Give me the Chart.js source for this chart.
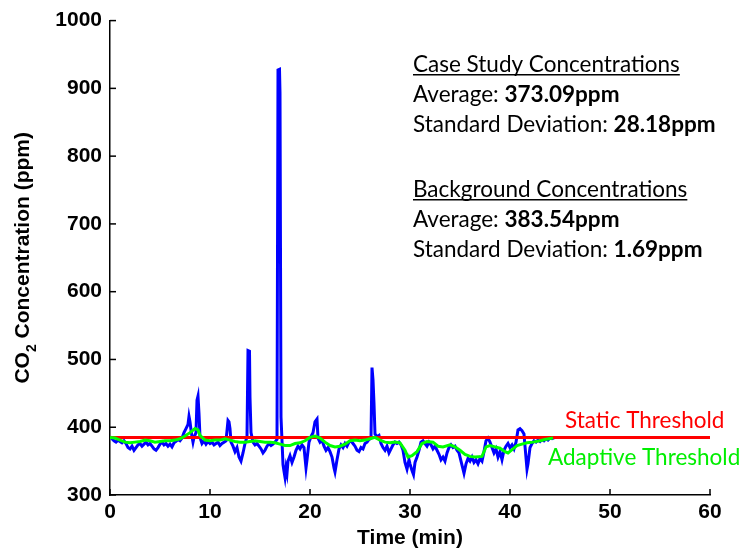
<!DOCTYPE html>
<html>
<head>
<meta charset="utf-8">
<script src="https://cdn.jsdelivr.net/npm/chart.js@4/dist/chart.umd.min.js"></script>
<style>
html,body{margin:0;padding:0;background:#fff;}
#wrap{width:744px;height:550px;position:relative;}
</style>
</head>
<body>
<div id="wrap"><canvas id="c" width="744" height="550"></canvas></div>
<script>
// ---- data ----
const blueTime = [0.0,0.2,0.4,0.6,0.8,1.0,1.2,1.4,1.6,1.8,2.0,2.2,2.4,2.6,2.8,3.0,3.2,3.4,3.6,3.8,4.0,4.2,4.4,4.6,4.8,5.0,5.2,5.4,5.6,5.8,6.0,6.2,6.4,6.6,6.8,7.0,7.2,7.4,7.6,7.8,7.9,8.0,8.1,8.2,8.3,8.4,8.6,8.7,8.8,8.9,9.0,9.2,9.4,9.6,9.8,10.0,10.2,10.4,10.6,10.8,11.0,11.2,11.4,11.6,11.8,11.9,12.0,12.1,12.3,12.5,12.7,12.9,13.1,13.3,13.5,13.7,13.8,13.95,14.0,14.1,14.3,14.5,14.7,14.9,15.1,15.3,15.5,15.7,15.9,16.1,16.3,16.5,16.7,16.8,16.95,17.0,17.1,17.2,17.3,17.4,17.5,17.6,17.7,17.8,18.0,18.2,18.4,18.6,18.8,19.0,19.2,19.4,19.6,19.7,19.9,20.1,20.3,20.5,20.7,20.8,21.0,21.2,21.4,21.6,21.8,22.0,22.2,22.4,22.5,22.7,22.9,23.1,23.3,23.5,23.7,23.9,24.1,24.3,24.5,24.7,24.9,25.1,25.3,25.5,25.7,25.9,26.1,26.2,26.3,26.4,26.5,26.7,26.9,27.1,27.3,27.5,27.7,27.9,28.1,28.3,28.5,28.7,28.9,29.1,29.3,29.5,29.7,29.9,30.0,30.2,30.35,30.5,30.7,30.9,31.1,31.3,31.5,31.7,31.9,32.1,32.3,32.5,32.7,32.9,33.1,33.3,33.5,33.7,33.9,34.1,34.3,34.5,34.7,34.9,35.1,35.3,35.4,35.6,35.8,36.0,36.2,36.4,36.6,36.8,37.0,37.2,37.4,37.6,37.8,38.0,38.2,38.4,38.6,38.8,39.0,39.2,39.4,39.6,39.8,40.0,40.2,40.4,40.6,40.8,41.0,41.2,41.4,41.5,41.7,41.8,42.0,42.2,42.4,42.6,42.8,43.0,43.2,43.4,43.6,43.8,44.0,44.2,44.5];
const blueValue = [386,383,380,378,381,379,377,380,376,370,368,372,366,370,374,376,372,375,378,374,376,372,368,366,370,375,378,374,376,372,375,371,377,379,382,380,384,392,398,404,416,408,396,386,378,385,392,440,446,420,385,376,380,375,379,376,378,374,376,378,373,376,378,380,410,408,398,378,372,364,370,356,350,362,376,386,513,512,444,392,378,374,376,372,368,362,366,372,376,373,375,378,382,927,928,893,415,380,345,335,326,340,332,350,358,348,356,366,372,368,374,370,340,352,378,386,392,408,412,384,378,381,372,366,370,364,356,340,334,352,368,374,370,376,372,378,380,376,372,366,364,370,368,376,378,382,384,488,470,435,390,386,388,376,370,366,372,362,368,374,378,376,378,374,366,348,338,352,346,336,330,348,356,366,378,380,376,372,378,374,368,372,366,360,352,356,350,362,370,374,370,372,366,362,350,338,332,346,354,350,356,348,352,346,354,350,364,380,384,378,370,362,368,356,364,352,366,372,376,370,374,368,378,396,398,395,390,372,338,346,370,376,380,378,381,379,382,380,383,381,384,383,385];
const adaptiveTime = [0,0.5,1.0,1.5,2.0,2.5,3.0,3.5,4.0,4.5,5.0,5.5,6.0,6.5,7.0,7.5,8.0,8.5,8.8,9.0,9.5,10,10.5,11,11.5,12,12.5,13,13.5,14,14.5,15,15.5,16,16.5,17,17.5,18,18.5,19,19.5,20,20.5,21,21.5,22,22.5,23,23.5,24,24.5,25,25.5,26,26.5,27,27.5,28,28.5,29,29.5,29.8,30.2,30.7,31.2,31.7,32.3,32.8,33.3,34,34.5,35,35.5,36,36.5,37.2,37.6,38,38.5,39,39.5,39.8,40.3,40.7,41.2,41.7,42.3,43,43.5,44.3];
const adaptiveValue = [385,384,381,378,377,378,379,381,380,378,379,380,380,381,383,387,392,398,396,388,381,380,381,381,383,381,379,378,378,379,380,379,378,378,377,375,373,373,376,377,380,385,387,384,378,373,371,372,375,380,381,380,381,383,385,381,378,377,378,377,366,356,358,364,376,379,378,372,371,374,371,366,360,357,356,357,371,373,371,369,364,362,368,373,375,377,378,380,382,384];
const staticTime = [0,60];
const staticValue = [385,385];
const xTickLabels = [0,10,20,30,40,50,60];
const yTickLabels = [300,400,500,600,700,800,900,1000];
const caseStats = {title:'Case Study Concentrations', avg:'373.09ppm', sd:'28.18ppm'};
const bgStats = {title:'Background Concentrations', avg:'383.54ppm', sd:'1.69ppm'};

const toXY = (xs, ys) => xs.map((x,i)=>({x:x, y:ys[i]}));

const AXFONT = '"Liberation Sans", Arial, sans-serif';
const TXFONT = 'Lato, "Open Sans", sans-serif';
const TXSIZE = 22.5;

const decorPlugin = {
  id:'decor',
  afterDraw(chart){
    const ctx = chart.ctx;
    const xs = chart.scales.x, ys = chart.scales.y;
    const ca = chart.chartArea;
    ctx.save();
    // inward ticks
    ctx.strokeStyle = '#000'; ctx.lineWidth = 1.5;
    xs.ticks.forEach((t,i)=>{
      const px = xs.getPixelForTick(i);
      ctx.beginPath(); ctx.moveTo(px, ca.bottom); ctx.lineTo(px, ca.bottom-6); ctx.stroke();
    });
    ys.ticks.forEach((t,i)=>{
      const py = ys.getPixelForTick(i);
      ctx.beginPath(); ctx.moveTo(ca.left, py); ctx.lineTo(ca.left+6, py); ctx.stroke();
    });
    // x title
    ctx.fillStyle = '#000';
    ctx.font = 'bold 21px ' + AXFONT;
    ctx.textAlign = 'center'; ctx.textBaseline = 'middle';
    ctx.fillText('Time (min)', (ca.left+ca.right)/2, ca.bottom + 43);
    // y title with subscript
    ctx.save();
    ctx.translate(23, (ca.top+ca.bottom)/2);
    ctx.rotate(-Math.PI/2);
    const big = 'bold 21px ' + AXFONT, small = 'bold 14px ' + AXFONT;
    ctx.font = big; const w1 = ctx.measureText('CO').width; const w3 = ctx.measureText(' Concentration (ppm)').width;
    ctx.font = small; const w2 = ctx.measureText('2').width;
    let x0 = -(w1+w2+w3)/2;
    ctx.textAlign = 'left';
    ctx.font = big; ctx.fillText('CO', x0, 0);
    ctx.font = small; ctx.fillText('2', x0+w1, 9);
    ctx.font = big; ctx.fillText(' Concentration (ppm)', x0+w1+w2, 0);
    ctx.restore();
    // stats annotations
    ctx.textAlign = 'left'; ctx.textBaseline = 'alphabetic';
    const left = 413;
    const drawBlock = (s, base) => {
      ctx.font = TXSIZE + 'px ' + TXFONT;
      ctx.fillText(s.title, left, base);
      const tw = ctx.measureText(s.title).width;
      ctx.fillRect(left, base+2, tw, 1.5);
      const lines = [['Average: ', s.avg], ['Standard Deviation: ', s.sd]];
      lines.forEach((ln, k) => {
        const b = base + 30*(k+1);
        ctx.font = TXSIZE + 'px ' + TXFONT;
        ctx.fillText(ln[0], left, b);
        const w = ctx.measureText(ln[0]).width;
        ctx.font = 'bold ' + TXSIZE + 'px ' + TXFONT;
        ctx.fillText(ln[1], left + w, b);
      });
    };
    drawBlock(caseStats, 72);
    drawBlock(bgStats, 197);
    // threshold labels
    const yThr = ys.getPixelForValue(staticValue[0]);
    ctx.font = TXSIZE + 'px ' + TXFONT;
    ctx.fillStyle = '#ff0000';
    ctx.fillText('Static Threshold', 565, yThr - 9);
    ctx.fillStyle = '#00ee00';
    ctx.fillText('Adaptive Threshold', 548, yThr + 28);
    ctx.restore();
  }
};

new Chart(document.getElementById('c'), {
  type: 'line',
  data: {
    datasets: [
      {label:'Adaptive Threshold', data: toXY(adaptiveTime, adaptiveValue), borderColor:'#00ff00', borderWidth:3, pointRadius:0, tension:0, order:0},
      {label:'Static Threshold', data: toXY(staticTime, staticValue), borderColor:'#ff0000', borderWidth:3, pointRadius:0, tension:0, order:1},
      {label:'CO2', data: toXY(blueTime, blueValue), borderColor:'#0000ff', borderWidth:3, pointRadius:0, tension:0, order:2}
    ]
  },
  options: {
    responsive:false, animation:false,
    layout:{padding:{left:0, right:34, top:19, bottom:0}},
    plugins:{legend:{display:false}, tooltip:{enabled:false}},
    scales:{
      x:{type:'linear', min:0, max:60,
        afterBuildTicks: s => { s.ticks = xTickLabels.map(v=>({value:v})); },
        afterFit: s => { s.height = 55; },
        grid:{display:true, drawOnChartArea:false, drawTicks:false},
        border:{display:true, color:'#000', width:1.5},
        ticks:{color:'#000', padding:5, maxRotation:0, callback: v => String(v), font:{family:AXFONT, size:21, weight:'bold'}}
      },
      y:{type:'linear', min:300, max:1000,
        afterBuildTicks: s => { s.ticks = yTickLabels.map(v=>({value:v})); },
        afterFit: s => { s.width = 110; },
        grid:{display:true, drawOnChartArea:false, drawTicks:false},
        border:{display:true, color:'#000', width:1.5},
        ticks:{color:'#000', padding:8, callback: v => String(v), font:{family:AXFONT, size:21, weight:'bold'}}
      }
    }
  },
  plugins:[decorPlugin]
});
</script>
</body>
</html>
